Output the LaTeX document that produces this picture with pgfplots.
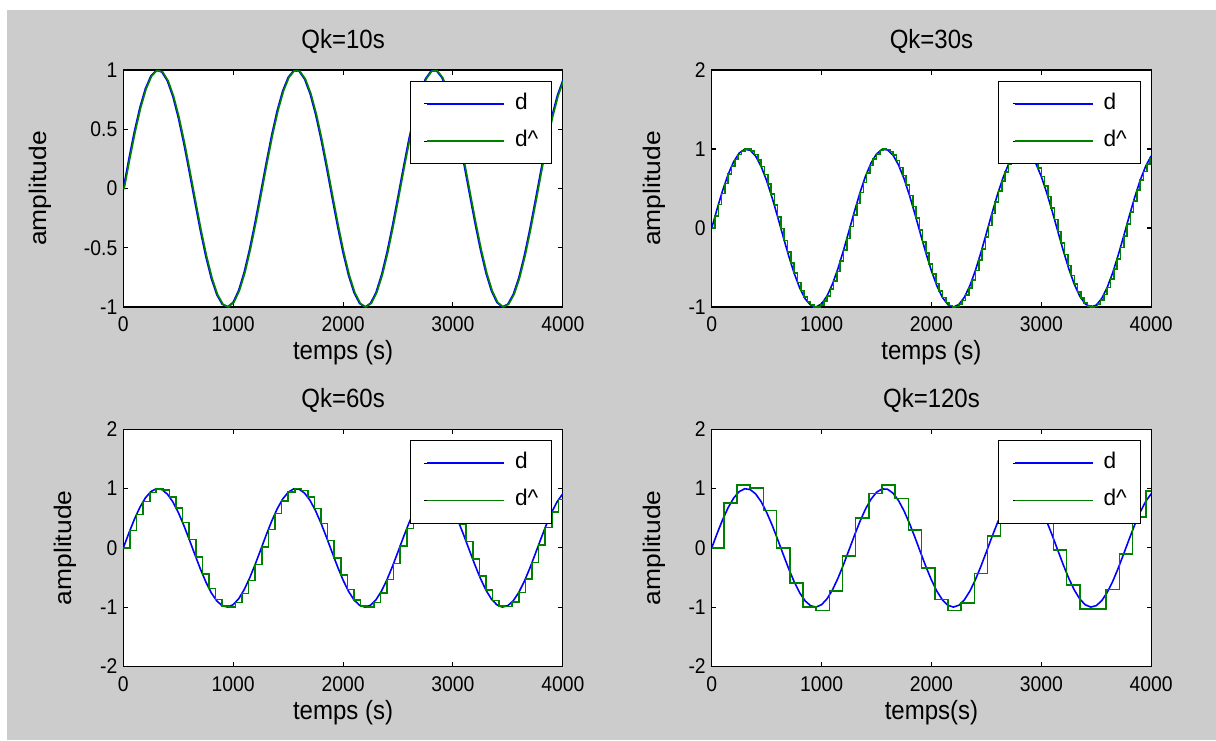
\documentclass[border=0pt]{standalone}
\usepackage{fontspec}
\setmainfont{Liberation Sans}
\usepackage{pgfplots}
\usepackage{pgfplotstable}
\pgfplotsset{compat=1.18}
\definecolor{figgrey}{RGB}{204,204,204}
\definecolor{mblue}{RGB}{0,0,255}
\definecolor{mgreen}{RGB}{0,128,0}

% d : reference signal
\pgfplotstableread{
t v
0 0
50 0.2474
100 0.4794
150 0.6816
200 0.8415
250 0.9490
300 0.9975
350 0.9840
400 0.9093
450 0.7781
500 0.5985
550 0.3817
600 0.1411
650 -0.1082
700 -0.3508
750 -0.5716
800 -0.7568
850 -0.8950
900 -0.9775
950 -0.9993
1000 -0.9589
1050 -0.8589
1100 -0.7055
1150 -0.5082
1200 -0.2794
1250 -0.0332
1300 0.2151
1350 0.4500
1400 0.6570
1450 0.8228
1500 0.9380
1550 0.9946
1600 0.9894
1650 0.9226
1700 0.7985
1750 0.6247
1800 0.4121
1850 0.1743
1900 -0.0752
1950 -0.3195
2000 -0.5440
2050 -0.7344
2100 -0.8797
2150 -0.9700
2200 -1.0000
2250 -0.9679
2300 -0.8755
2350 -0.7287
2400 -0.5366
2450 -0.3111
2500 -0.0663
2550 0.1826
2600 0.4202
2650 0.6318
2700 0.8038
2750 0.9260
2800 0.9906
2850 0.9936
2900 0.9349
2950 0.8180
3000 0.6503
3050 0.4421
3100 0.2065
3150 -0.0420
3200 -0.2879
3250 -0.5158
3300 -0.7118
3350 -0.8639
3400 -0.9614
3450 -0.9996
3500 -0.9756
3550 -0.8910
3600 -0.7510
3650 -0.5643
3700 -0.3425
3750 -0.0994
3800 0.1499
3850 0.3898
3900 0.6055
3950 0.7837
4000 0.9129
}\dtab

% d^ for Qk=10s
\pgfplotstableread{
t v
0 0
8 0
58 0.2474
108 0.4794
158 0.6816
208 0.8415
258 0.9490
308 0.9975
358 0.9840
408 0.9093
458 0.7781
508 0.5985
558 0.3817
608 0.1411
658 -0.1082
708 -0.3508
758 -0.5716
808 -0.7568
858 -0.8950
908 -0.9775
958 -0.9993
1008 -0.9589
1058 -0.8589
1108 -0.7055
1158 -0.5082
1208 -0.2794
1258 -0.0332
1308 0.2151
1358 0.4500
1408 0.6570
1458 0.8228
1508 0.9380
1558 0.9946
1608 0.9894
1658 0.9226
1708 0.7985
1758 0.6247
1808 0.4121
1858 0.1743
1908 -0.0752
1958 -0.3195
2008 -0.5440
2058 -0.7344
2108 -0.8797
2158 -0.9700
2208 -1.0000
2258 -0.9679
2308 -0.8755
2358 -0.7287
2408 -0.5366
2458 -0.3111
2508 -0.0663
2558 0.1826
2608 0.4202
2658 0.6318
2708 0.8038
2758 0.9260
2808 0.9906
2858 0.9936
2908 0.9349
2958 0.8180
3008 0.6503
3058 0.4421
3108 0.2065
3158 -0.0420
3208 -0.2879
3258 -0.5158
3308 -0.7118
3358 -0.8639
3408 -0.9614
3458 -0.9996
3508 -0.9756
3558 -0.8910
3608 -0.7510
3658 -0.5643
3708 -0.3425
3758 -0.0994
3808 0.1499
3858 0.3898
3908 0.6055
3958 0.7837
4008 0.9129
}\gten

% d^ for Qk=30s
\pgfplotstableread{
t v
0 0
30 0.1494
60 0.2955
90 0.4350
120 0.5646
150 0.6816
180 0.7833
210 0.8674
240 0.9320
270 0.9757
300 0.9975
330 0.9969
360 0.9738
390 0.9290
420 0.8632
450 0.7781
480 0.6755
510 0.5577
540 0.4274
570 0.2875
600 0.1411
630 -0.0084
660 -0.1577
690 -0.3035
720 -0.4425
750 -0.5716
780 -0.6878
810 -0.7885
840 -0.8716
870 -0.9349
900 -0.9775
930 -0.9981
960 -0.9962
990 -0.9719
1020 -0.9258
1050 -0.8589
1080 -0.7728
1110 -0.6692
1140 -0.5507
1170 -0.4195
1200 -0.2794
1230 -0.1328
1260 0.0168
1290 0.1660
1320 0.3115
1350 0.4500
1380 0.5784
1410 0.6938
1440 0.7937
1470 0.8756
1500 0.9380
1530 0.9793
1560 0.9985
1590 0.9954
1620 0.9699
1650 0.9226
1680 0.8546
1710 0.7674
1740 0.6630
1770 0.5437
1800 0.4121
1830 0.2714
1860 0.1245
1890 -0.0252
1920 -0.1743
1950 -0.3195
1980 -0.4575
2010 -0.5852
2040 -0.6999
2070 -0.7987
2100 -0.8797
2130 -0.9408
2160 -0.9809
2190 -0.9990
2220 -0.9946
2250 -0.9679
2280 -0.9193
2310 -0.8502
2340 -0.7620
2370 -0.6567
2400 -0.5366
2430 -0.4045
2460 -0.2633
2490 -0.1161
2520 0.0336
2550 0.1826
2580 0.3275
2610 0.4650
2640 0.5920
2670 0.7055
2700 0.8038
2730 0.8839
2760 0.9437
2790 0.9826
2820 0.9993
2850 0.9936
2880 0.9657
2910 0.9160
2940 0.8458
2970 0.7566
3000 0.6503
3030 0.5295
3060 0.3967
3090 0.2551
3120 0.1078
3150 -0.0420
3180 -0.1908
3210 -0.3354
3240 -0.4724
3270 -0.5988
3300 -0.7118
3330 -0.8087
3360 -0.8877
3390 -0.9463
3420 -0.9841
3450 -0.9996
3480 -0.9927
3510 -0.9634
3540 -0.9126
3570 -0.8413
3600 -0.7510
3630 -0.6439
3660 -0.5223
3690 -0.3891
3720 -0.2470
3750 -0.0994
3780 0.0504
3810 0.1991
3840 0.3433
3870 0.4797
3900 0.6055
3930 0.7176
3960 0.8138
3990 0.8915
4000 0.8915
}\gthirty

% d^ for Qk=60s
\pgfplotstableread{
t v
0 0
60 0.2955
120 0.5646
180 0.7833
240 0.9320
300 0.9975
360 0.9738
420 0.8632
480 0.6755
540 0.4274
600 0.1411
660 -0.1577
720 -0.4425
780 -0.6878
840 -0.8716
900 -0.9775
960 -0.9962
1020 -0.9258
1080 -0.7728
1140 -0.5507
1200 -0.2794
1260 0.0168
1320 0.3115
1380 0.5784
1440 0.7937
1500 0.9380
1560 0.9985
1620 0.9699
1680 0.8546
1740 0.6630
1800 0.4121
1860 0.1245
1920 -0.1743
1980 -0.4575
2040 -0.6999
2100 -0.8797
2160 -0.9809
2220 -0.9946
2280 -0.9193
2340 -0.7620
2400 -0.5366
2460 -0.2633
2520 0.0336
2580 0.3275
2640 0.5920
2700 0.8038
2760 0.9437
2820 0.9993
2880 0.9657
2940 0.8458
3000 0.6503
3060 0.3967
3120 0.1078
3180 -0.1908
3240 -0.4724
3300 -0.7118
3360 -0.8877
3420 -0.9841
3480 -0.9927
3540 -0.9126
3600 -0.7510
3660 -0.5223
3720 -0.2470
3780 0.0504
3840 0.3433
3900 0.6055
3960 0.8138
4000 0.8138
}\gsixty

% d^ for Qk=120s
\pgfplotstableread{
t v
0 0
110 0.76
230 1.06
350 1.01
470 0.63
590 0.0
710 -0.59
830 -1.0
950 -1.06
1070 -0.73
1190 -0.14
1310 0.50
1430 0.92
1550 1.06
1670 0.83
1790 0.30
1910 -0.34
2030 -0.87
2150 -1.06
2270 -0.93
2390 -0.43
2510 0.20
2630 0.76
2750 1.03
2870 0.85
2990 0.45
3110 -0.04
3230 -0.63
3350 -1.03
3470 -1.03
3590 -0.70
3710 -0.10
3830 0.52
3950 0.96
4000 0.96
}\gonetwenty

\pgfplotsset{
  mstyle/.style={
    scale only axis, width=329.6pt, height=177.75pt,
    anchor=north west,
    xmin=0, xmax=4000,
    xtick={0,1000,2000,3000,4000},
    xticklabels={0,1000,2000,3000,4000},
    tick align=inside, major tick length=3.5pt,
    axis line style={black, line width=0.8pt},
    every tick/.style={black, line width=0.8pt},
    axis background/.style={fill=white},
    tick label style={font=\fontsize{14.5}{17}\selectfont, yscale=1.1},
    label style={font=\fontsize{18}{21}\selectfont},
    xlabel style={yscale=1.1},
    title style={font=\fontsize{18}{21}\selectfont, at={(axis description cs:0.5,1)}, anchor=base, yshift=10.5pt, yscale=1.1},
    xlabel style={at={(axis description cs:0.5,0)}, anchor=base, yshift=-36pt},
    xticklabel style={anchor=base, yshift=-17pt},
    yticklabel style={anchor=east, xshift=-1pt},
    ylabel style={anchor=center, xscale=1.1},
    legend cell align=left,
    legend style={at={(axis description cs:0.976,0.955)}, anchor=north east,
      draw=black, line width=0.8pt, fill=white,
      inner xsep=10pt, inner ysep=9pt, row sep=12pt, column sep=7.5pt,
      font=\fontsize{17}{20}\selectfont,
      nodes={inner sep=0pt, text height=12pt, text depth=4pt}},
  }
}

\begin{document}
\begin{tikzpicture}
\fill[white] (0,0) rectangle (912pt,-555pt);
\fill[figgrey] (5.25pt,-7.5pt) rectangle (912pt,-555pt);
\path[use as bounding box] (0,0) rectangle (912pt,-555pt);

% Qk=10s
\begin{axis}[mstyle, at={(92.5pt,-52.5pt)},
  ymin=-1, ymax=1, ytick={-1,-0.5,0,0.5,1}, yticklabels={-1,-0.5,0,0.5,1},
  title={Qk=10s}, xlabel={temps (s)}, ylabel={amplitude},
  ylabel style={at={(axis description cs:-0.189,0.5)}}]
\addplot[color=mblue, line width=1.2pt] table[x=t,y=v] {\dtab};
\addplot[color=mgreen, line width=1.2pt] table[x=t,y=v] {\gten};
\addlegendimage{legend image code/.code={\path (0pt,0pt) -- (60pt,0pt);\draw[draw=mblue, line width=1.2pt] (2pt,0pt) -- (60pt,0pt);}}
\addlegendimage{legend image code/.code={\path (0pt,0pt) -- (60pt,0pt);\draw[draw=mgreen, line width=1.2pt] (2pt,0pt) -- (60pt,0pt);}}
\legend{,,d, d\textasciicircum}
\end{axis}

% Qk=30s
\begin{axis}[mstyle, at={(533.8pt,-52.5pt)},
  ymin=-1, ymax=2, ytick={-1,0,1,2}, yticklabels={-1,0,1,2},
  title={Qk=30s}, xlabel={temps (s)}, ylabel={amplitude},
  ylabel style={at={(axis description cs:-0.131,0.5)}}]
\addplot[color=mblue, line width=1.2pt] table[x=t,y=v] {\dtab};
\addplot[color=mgreen, line width=1.2pt, const plot] table[x=t,y=v] {\gthirty};
\addlegendimage{legend image code/.code={\path (0pt,0pt) -- (60pt,0pt);\draw[draw=mblue, line width=1.2pt] (2pt,0pt) -- (60pt,0pt);}}
\addlegendimage{legend image code/.code={\path (0pt,0pt) -- (60pt,0pt);\draw[draw=mgreen, line width=1.2pt] (2pt,0pt) -- (60pt,0pt);}}
\legend{,,d, d\textasciicircum}
\end{axis}

% Qk=60s
\begin{axis}[mstyle, at={(92.5pt,-322pt)},
  ymin=-2, ymax=2, ytick={-2,-1,0,1,2}, yticklabels={-2,-1,0,1,2},
  title={Qk=60s}, xlabel={temps (s)}, ylabel={amplitude},
  ylabel style={at={(axis description cs:-0.131,0.5)}}]
\addplot[color=mblue, line width=1.2pt] table[x=t,y=v] {\dtab};
\addplot[color=mgreen, line width=1.2pt, const plot] table[x=t,y=v] {\gsixty};
\addlegendimage{legend image code/.code={\path (0pt,0pt) -- (60pt,0pt);\draw[draw=mblue, line width=1.2pt] (2pt,0pt) -- (60pt,0pt);}}
\addlegendimage{legend image code/.code={\path (0pt,0pt) -- (60pt,0pt);\draw[draw=mgreen, line width=1.2pt] (2pt,0pt) -- (60pt,0pt);}}
\legend{,,d, d\textasciicircum}
\end{axis}

% Qk=120s
\begin{axis}[mstyle, at={(533.8pt,-322pt)},
  ymin=-2, ymax=2, ytick={-2,-1,0,1,2}, yticklabels={-2,-1,0,1,2},
  title={Qk=120s}, xlabel={temps(s)}, ylabel={amplitude},
  ylabel style={at={(axis description cs:-0.131,0.5)}}]
\addplot[color=mblue, line width=1.2pt] table[x=t,y=v] {\dtab};
\addplot[color=mgreen, line width=1.2pt, const plot] table[x=t,y=v] {\gonetwenty};
\addlegendimage{legend image code/.code={\path (0pt,0pt) -- (60pt,0pt);\draw[draw=mblue, line width=1.2pt] (2pt,0pt) -- (60pt,0pt);}}
\addlegendimage{legend image code/.code={\path (0pt,0pt) -- (60pt,0pt);\draw[draw=mgreen, line width=1.2pt] (2pt,0pt) -- (60pt,0pt);}}
\legend{,,d, d\textasciicircum}
\end{axis}
\end{tikzpicture}
\end{document}
